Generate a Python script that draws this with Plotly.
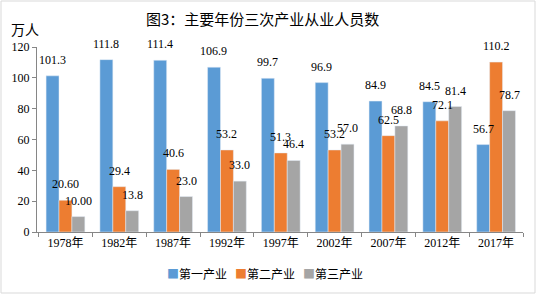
import plotly.graph_objects as go

# dados
anos = ["1978年", "1982年", "1987年", "1992年", "1997年", "2002年", "2007年", "2012年", "2017年"]
primeiro = [101.3, 111.8, 111.4, 106.9, 99.7, 96.9, 84.9, 84.5, 56.7]
segundo = [20.6, 29.4, 40.6, 53.2, 51.3, 53.2, 62.5, 72.1, 110.2]
terceiro = [10.0, 13.8, 23.0, 33.0, 46.4, 57.0, 68.8, 81.4, 78.7]
rot_primeiro = ["101.3", "111.8", "111.4", "106.9", "99.7", "96.9", "84.9", "84.5", "56.7"]
rot_segundo = ["20.60", "29.4", "40.6", "53.2", "51.3", "53.2", "62.5", "72.1", "110.2"]
rot_terceiro = ["10.00", "13.8", "23.0", "33.0", "46.4", "57.0", "68.8", "81.4", "78.7"]

fonte_num = "Liberation Serif, Times New Roman, Noto Sans CJK SC"
fonte_cjk = "Noto Sans CJK SC"

W, H = 536, 294
ml, mr, mt, mb = 37, 13, 47, 62
pw = W - ml - mr
ph = H - mt - mb
bargap = 0.28
larg_barra = pw / len(anos) * (1 - bargap) / 3  # largura de cada barra em px

fig = go.Figure()
series = [
    ("第一产业", primeiro, rot_primeiro, "#5B9BD5"),
    ("第二产业", segundo, rot_segundo, "#ED7D31"),
    ("第三产业", terceiro, rot_terceiro, "#A5A5A5"),
]
for nome, valores, rotulos, cor in series:
    fig.add_trace(go.Bar(x=anos, y=valores, name=nome, marker_color=cor, hoverinfo="skip"))

# rótulos de dados um pouco acima das barras (como no Excel)
rotulos_dados = []
for i, (nome, valores, rotulos, cor) in enumerate(series):
    for ano, v, r in zip(anos, valores, rotulos):
        rotulos_dados.append(dict(
            x=ano, y=v, text=r, showarrow=False, xanchor="center", yanchor="bottom",
            xshift=(i - 1) * larg_barra, yshift=7,
            font=dict(family=fonte_num, size=12, color="#000000")))

# legenda feita a mão (quadradinho colorido + nome), como no original
legenda = []
xs_leg = [165, 233, 301]
for (nome, _, _, cor), xl in zip(series, xs_leg):
    legenda.append(dict(
        text=f"<span style='color:{cor}'>■</span>{nome}",
        x=(xl - ml) / pw, xref="paper", y=-(273 - mt - ph) / ph, yref="paper",
        showarrow=False, xanchor="left", yanchor="middle",
        font=dict(family=fonte_cjk, size=12, color="#000000")))

fig.update_layout(
    width=W, height=H,
    margin=dict(l=ml, r=mr, t=mt, b=mb),
    barmode="group", bargap=bargap, bargroupgap=0,
    plot_bgcolor="white", paper_bgcolor="white",
    showlegend=False,
    annotations=[
        dict(text="图3：主要年份三次产业从业人员数", x=(262 - ml) / pw, xref="paper",
             y=1 + (mt - 18) / ph, yref="paper", showarrow=False,
             xanchor="center", yanchor="middle",
             font=dict(family=fonte_cjk, size=15, color="#000000")),
        dict(text="万人", x=-(ml - 9) / pw, xref="paper", y=1 + (mt - 29) / ph, yref="paper",
             showarrow=False, xanchor="left", yanchor="middle",
             font=dict(family=fonte_cjk, size=14, color="#000000")),
    ] + rotulos_dados + legenda,
    shapes=[dict(type="rect", xref="paper", yref="paper",
                 x0=-(ml - 1) / pw, x1=1 + (mr - 1) / pw,
                 y0=-(mb - 1) / ph, y1=1 + (mt - 1) / ph,
                 line=dict(color="#D9D9D9", width=1))],
)
fig.update_yaxes(range=[0, 120], dtick=20, showgrid=False, showline=True, automargin=False,
                 linecolor="#868686", ticks="outside", tickcolor="#868686", ticklen=4,
                 tickfont=dict(family=fonte_num, size=12, color="#000000"))
fig.update_xaxes(showgrid=False, showline=True, automargin=False, linecolor="#868686",
                 ticks="outside", tickcolor="#868686", ticklen=4, tickson="boundaries",
                 tickfont=dict(family=fonte_num, size=12, color="#000000"))

# tira a margem padrão do <body> para a figura ocupar a janela toda
fig.write_html("out.html", config={"displayModeBar": False},
               post_script="document.body.style.margin='0';")
